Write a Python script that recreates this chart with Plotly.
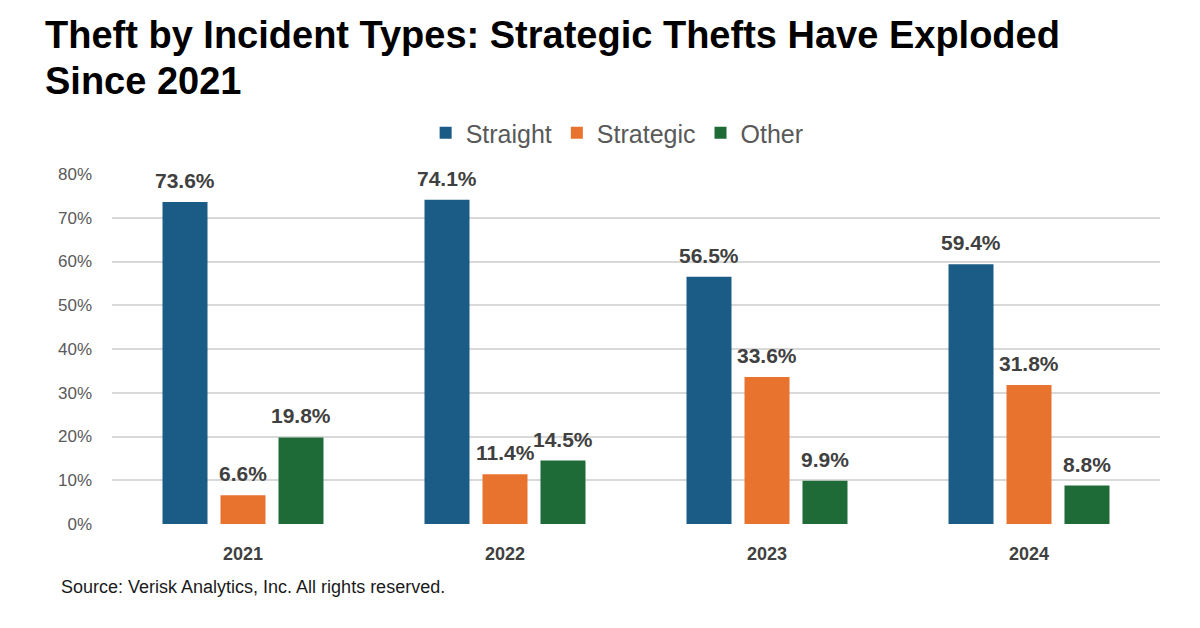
import plotly.graph_objects as go

years = ["2021", "2022", "2023", "2024"]
straight = [73.6, 74.1, 56.5, 59.4]
strategic = [6.6, 11.4, 33.6, 31.8]
other = [19.8, 14.5, 9.9, 8.8]
series_names = ["Straight", "Strategic", "Other"]
colors = ["#1A5C85", "#E8732F", "#1E6B38"]
y_ticks = [0, 10, 20, 30, 40, 50, 60, 70, 80]
title_lines = ["Theft by Incident Types: Strategic Thefts Have Exploded", "Since 2021"]
source_text = "Source: Verisk Analytics, Inc. All rights reserved."

FONT = "Liberation Sans, Arial, sans-serif"
SLOT_PX = 58  # pixel width of one bar slot within a group

fig = go.Figure()
all_series = [straight, strategic, other]
for name, vals, col in zip(series_names, all_series, colors):
    fig.add_trace(go.Bar(
        x=years, y=vals, name=name, marker=dict(color=col, line=dict(width=0)),
    ))

# value labels above bars (x given as category serial number)
for i, vals in enumerate(all_series):
    for j, v in enumerate(vals):
        fig.add_annotation(
            x=j, y=v, xref="x", yref="y", text=f"<b>{v:.1f}%</b>", showarrow=False,
            xanchor="center", yanchor="bottom", xshift=(i - 1) * SLOT_PX, yshift=8,
            font=dict(family=FONT, size=21, color="#404040"),
        )

fig.update_layout(
    width=1200, height=628,
    paper_bgcolor="white", plot_bgcolor="white",
    margin=dict(l=104, r=48, t=166, b=112),
    barmode="group", bargap=0.336, bargroupgap=0.224,
    showlegend=True,
    legend=dict(orientation="h", x=0.482, xanchor="center", y=1.0 + 41/350, yanchor="middle",
                font=dict(family=FONT, size=25, color="#595959"),
                traceorder="normal"),
    xaxis=dict(type="category", range=[-0.5, 3.5], showline=False, ticks="",
               tickfont=dict(family=FONT, size=18, color="#404040", weight="bold"),
               ticklabelstandoff=17),
    yaxis=dict(range=[0, 80], tickvals=y_ticks, ticktext=[f"{t}%" for t in y_ticks],
               showgrid=True, gridcolor="#D9D9D9", gridwidth=1.5, zeroline=False,
               tickfont=dict(family=FONT, size=17, color="#595959"),
               ticklabelstandoff=19),
)

# title (two lines)
for line, ypx in zip(title_lines, [27, 73]):
    fig.add_annotation(text=f"<b>{line}</b>", xref="paper", yref="paper",
                       x=-69/1048, y=1 + (166 - ypx)/350, xanchor="left", yanchor="middle",
                       showarrow=False, font=dict(family=FONT, size=38, color="#000000"))

fig.add_annotation(text=source_text, xref="paper", yref="paper",
                   x=-53/1048, y=-(579 - 516)/350, xanchor="left", yanchor="middle", showarrow=False,
                   font=dict(family=FONT, size=18, color="#1a1a1a"))

fig.write_html("out.html")
